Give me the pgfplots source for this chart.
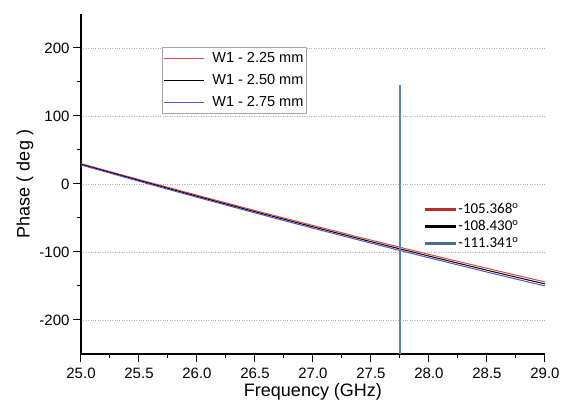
\documentclass[border=0pt]{standalone}
\usepackage{fontspec}
\setmainfont{Liberation Sans}
\newfontfamily\calibri{Carlito}
\usepackage{pgfplots}
\pgfplotsset{compat=1.18}
\definecolor{cred}{HTML}{D9474B}
\definecolor{cblue}{HTML}{5A52C8}
\definecolor{vline}{HTML}{5B87B8}
\definecolor{lred}{HTML}{C0282D}
\definecolor{lblue}{HTML}{4A6A9A}
\begin{document}
\begin{tikzpicture}
\path[use as bounding box] (-81pt,-58pt) rectangle (485pt,354pt);
\begin{axis}[
  at={(0pt,0pt)}, anchor=south west,
  scale only axis, width=464pt, height=340pt,
  xmin=25, xmax=29, ymin=-250, ymax=250,
  axis lines*=left,
  axis line style={line width=1.1pt, black},
  xtick={25,25.5,...,29}, minor x tick num=1,
  ytick={-200,-100,0,100,200}, minor y tick num=1,
  tick align=outside,
  major tick length=8pt, minor tick length=4pt,
  every tick/.style={black, line width=1pt},
  ymajorgrids,
  major grid style={gray!60, dotted, line width=0.6pt},
  /pgf/number format/assume math mode=true,
  xticklabel style={yshift=-2pt, /pgf/number format/.cd, fixed, fixed zerofill, precision=1},
  ticklabel style={font=\fontsize{15}{17}\selectfont},
  xlabel={Frequency (GHz)}, ylabel={Phase ( deg )},
  every axis x label/.style={at={(axis description cs:0.5,-0.112)}, anchor=center, font=\fontsize{18}{20}\selectfont},
  every axis y label/.style={at={(axis description cs:-0.121,0.5)}, rotate=90, anchor=center, font=\fontsize{18}{20}\selectfont},
  legend style={at={(0.175,0.903)}, anchor=north west, draw=gray!70, line width=0.5pt,
    font=\fontsize{14.5}{16}\selectfont, row sep=2pt, inner sep=1pt,
    nodes={inner sep=2pt, text height=12pt, text depth=4pt}},
  legend cell align=left,
  legend image code/.code={\draw[#1, line width=0.8pt] (0pt,0pt) -- (40pt,0pt); \path (46pt,0pt);},
]
\addplot[cred, line width=1pt] coordinates {
(25.00,30.0) (25.25,18.2) (25.50,6.5) (25.75,-5.0) (26.00,-16.5) (26.25,-27.8) (26.50,-39.0) (26.75,-50.0) (27.00,-61.0) (27.25,-71.8) (27.50,-82.5) (27.75,-93.0) (28.00,-103.5) (28.25,-113.8) (28.50,-124.0) (28.75,-134.0) (29.00,-144.0)};
\addlegendentry{W1 - 2.25 mm}
\addplot[black, line width=1pt] coordinates {
(25.00,29.0) (25.25,17.1) (25.50,5.3) (25.75,-6.4) (26.00,-18.0) (26.25,-29.4) (26.50,-40.8) (26.75,-51.9) (27.00,-63.0) (27.25,-73.9) (27.50,-84.8) (27.75,-95.4) (28.00,-106.0) (28.25,-116.4) (28.50,-126.8) (28.75,-136.9) (29.00,-147.0)};
\addlegendentry{W1 - 2.50 mm}
\addplot[cblue, line width=1pt] coordinates {
(25.00,28.0) (25.25,16.0) (25.50,4.0) (25.75,-7.8) (26.00,-19.5) (26.25,-31.0) (26.50,-42.5) (26.75,-53.8) (27.00,-65.0) (27.25,-76.0) (27.50,-87.0) (27.75,-97.8) (28.00,-108.5) (28.25,-119.0) (28.50,-129.5) (28.75,-139.8) (29.00,-150.0)};
\addlegendentry{W1 - 2.75 mm}
\addplot[vline, line width=1.1pt, forget plot] coordinates {(27.75,-250) (27.75,145)};
\end{axis}
\begin{axis}[
  at={(0pt,0pt)}, anchor=south west,
  scale only axis, width=464pt, height=340pt,
  xmin=0, xmax=1, ymin=0, ymax=1, hide axis,
  legend style={at={(0.735,0.455)}, anchor=north west, draw=none, fill=none,
    font=\calibri\fontsize{15}{17}\selectfont, row sep=1pt, inner sep=2pt,
    nodes={inner sep=1pt, text height=11pt, text depth=3pt}},
  legend cell align=left,
  legend image code/.code={\draw[#1] (0pt,0pt) -- (31pt,0pt);},
]
\addlegendimage{lred, line width=2.2pt}
\addlegendentry{-105.368\textsuperscript{o}}
\addlegendimage{black, line width=2.2pt}
\addlegendentry{-108.430\textsuperscript{o}}
\addlegendimage{lblue, line width=2.2pt}
\addlegendentry{-111.341\textsuperscript{o}}
\end{axis}
\end{tikzpicture}
\end{document}
